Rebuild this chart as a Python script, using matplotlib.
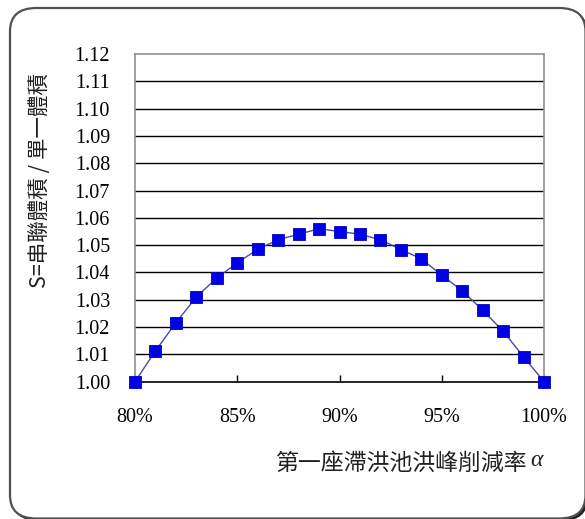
import matplotlib
matplotlib.use("Agg")
import matplotlib.pyplot as plt
from matplotlib.patches import FancyBboxPatch

alpha_pct = [80, 81, 82, 83, 84, 85, 86, 87, 88, 89, 90, 91, 92, 93, 94, 95, 96, 97, 98, 99, 100]
s_ratio = [1.000, 1.0113, 1.0216, 1.031, 1.038, 1.0435, 1.0485, 1.052, 1.054, 1.056, 1.055,
           1.054, 1.052, 1.0484, 1.045, 1.039, 1.0333, 1.0262, 1.0185, 1.0091, 1.000]
x_ticks = [80, 85, 90, 95, 100]
x_tick_labels = ["80%", "85%", "90%", "95%", "100%"]
y_ticks = [1.00, 1.01, 1.02, 1.03, 1.04, 1.05, 1.06, 1.07, 1.08, 1.09, 1.10, 1.11, 1.12]
y_tick_labels = ["%.2f" % v for v in y_ticks]
x_label = "第一座滯洪池洪峰削減率"
x_label_symbol = "α"
y_label = "S=串聯體積 / 單一體積"

W, H = 585, 519
fig = plt.figure(figsize=(W / 100, H / 100), dpi=100)
fig.patch.set_facecolor("white")

# outer rounded frame (right and bottom edges run just past the image border)
shadow = FancyBboxPatch((12 / W, 1 - 521 / H), 576 / W, 511 / H,
                        boxstyle="round,pad=0,rounding_size=0.045",
                        transform=fig.transFigure, facecolor="#202020",
                        edgecolor="none", zorder=0)
frame = FancyBboxPatch((10 / W, 1 - 518.5 / H), 575.5 / W, 510.5 / H,
                       boxstyle="round,pad=0,rounding_size=0.045",
                       transform=fig.transFigure, facecolor="white",
                       edgecolor="#505050", linewidth=1.6, zorder=1)
fig.patches.extend([shadow, frame])

ax = fig.add_axes([135 / W, 1 - 381.7 / H, (544 - 135) / W, (381.7 - 54) / H])
ax.set_zorder(2)
ax.set_facecolor("white")

for yv in y_ticks[1:-1]:
    ax.axhline(yv, color="black", linewidth=1.0, zorder=1)

ax.plot(alpha_pct, s_ratio, color="#4848a8", linewidth=1.0, zorder=3)
ax.plot(alpha_pct, s_ratio, linestyle="none", marker="s", markersize=8.5,
        markerfacecolor="#0000e6", markeredgecolor="#0000c0", markeredgewidth=0.6,
        zorder=4, clip_on=False)

ax.set_xlim(80, 100)
ax.set_ylim(1.00, 1.12)
ax.set_xticks(x_ticks)
ax.set_xticklabels(x_tick_labels, family="Liberation Serif", fontsize=14.5)
ax.set_yticks(y_ticks)
ax.set_yticklabels(y_tick_labels, family="Liberation Serif", fontsize=14.5)
ax.tick_params(axis="x", direction="in", length=5, width=1, color="black", pad=19)
ax.tick_params(axis="y", length=0, pad=18)

for side in ["left", "right", "top"]:
    ax.spines[side].set_color("#909090")
    ax.spines[side].set_linewidth(1.2)
ax.spines["bottom"].set_color("black")
ax.spines["bottom"].set_linewidth(1.2)

fig.text(528 / W, 1 - 463 / H, x_label, family=["Noto Sans CJK TC", "DejaVu Sans"],
         fontsize=16.5, ha="right", va="center", color="#202020")
fig.text(530 / W, 1 - 461 / H, x_label_symbol, fontsize=17, ha="left", va="center",
         color="#202020", family="Liberation Serif", style="italic")
fig.text(40 / W, 1 - 180 / H, y_label, family=["Noto Sans CJK TC", "DejaVu Sans"],
         fontsize=15.5, rotation=90, ha="center", va="center", color="#202020")

fig.savefig("out.png", dpi=100, facecolor="white")
